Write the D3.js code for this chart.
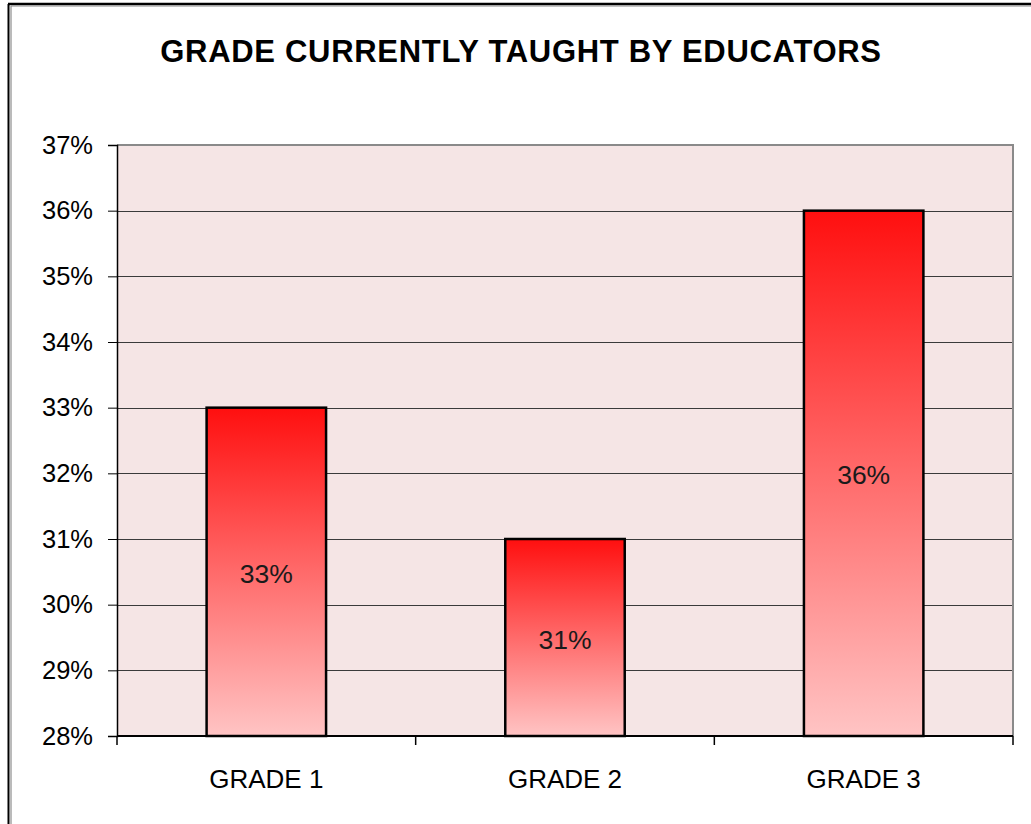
<!DOCTYPE html>
<html>
<head>
<meta charset="utf-8">
<script src="https://cdn.jsdelivr.net/npm/d3@7"></script>
<style>
  html, body { margin: 0; padding: 0; background: #ffffff; }
  svg { display: block; }
  text { font-family: "Liberation Sans", Arial, sans-serif; fill: #000; }
</style>
</head>
<body>
<svg id="chart" width="1031" height="824"></svg>
<script>
const title = "GRADE CURRENTLY TAUGHT BY EDUCATORS";
const categories = ["GRADE 1", "GRADE 2", "GRADE 3"];
const values = [0.33, 0.31, 0.36];
const yTicks = [0.28, 0.29, 0.30, 0.31, 0.32, 0.33, 0.34, 0.35, 0.36, 0.37];
const yDomain = [0.28, 0.37];

const svg = d3.select("#chart");
const W = 1031, H = 824;
const plot = { left: 117, top: 145, right: 1013, bottom: 736 };

// outer frame (left double line and top line)
svg.append("line").attr("x1", 8.5).attr("x2", 8.5).attr("y1", 4).attr("y2", H).attr("stroke", "#000").attr("stroke-width", 2);
svg.append("line").attr("x1", 11).attr("x2", 11).attr("y1", 6).attr("y2", H).attr("stroke", "#777").attr("stroke-width", 1);
svg.append("line").attr("x1", 8).attr("x2", W).attr("y1", 4).attr("y2", 4).attr("stroke", "#000").attr("stroke-width", 2.5);
svg.append("line").attr("x1", 11).attr("x2", W).attr("y1", 6).attr("y2", 6).attr("stroke", "#888").attr("stroke-width", 1);

const x = d3.scaleBand().domain(categories).range([plot.left, plot.right]).paddingInner(0.6).paddingOuter(0.3);
const xCat = d3.scaleBand().domain(categories).range([plot.left, plot.right]).padding(0);
const y = d3.scaleLinear().domain(yDomain).range([plot.bottom, plot.top]);

// gradient
const defs = svg.append("defs");
const grad = defs.append("linearGradient").attr("id", "barGrad").attr("x1", 0).attr("y1", 0).attr("x2", 0).attr("y2", 1);
grad.append("stop").attr("offset", "0%").attr("stop-color", "#ff0f0f");
grad.append("stop").attr("offset", "50%").attr("stop-color", "#ff6a6a");
grad.append("stop").attr("offset", "100%").attr("stop-color", "#ffc4c4");

// plot background
svg.append("rect").attr("x", plot.left).attr("y", plot.top)
  .attr("width", plot.right - plot.left).attr("height", plot.bottom - plot.top)
  .attr("fill", "#f5e5e5");

// gridlines
svg.append("g").selectAll("line").data(yTicks.filter(t => t > yDomain[0] && t < yDomain[1])).join("line")
  .attr("x1", plot.left).attr("x2", plot.right)
  .attr("y1", d => Math.round(y(d)) + 0.5).attr("y2", d => Math.round(y(d)) + 0.5)
  .attr("stroke", "#3a3a3a").attr("stroke-width", 1);

// plot border top/right
svg.append("path")
  .attr("d", `M${plot.left},${plot.top}H${plot.right}V${plot.bottom}`)
  .attr("fill", "none").attr("stroke", "#8a8a8a").attr("stroke-width", 2);

// bars
svg.append("g").selectAll("rect").data(values).join("rect")
  .attr("x", (d, i) => x(categories[i]))
  .attr("y", d => y(d))
  .attr("width", x.bandwidth())
  .attr("height", d => y(yDomain[0]) - y(d))
  .attr("fill", "url(#barGrad)")
  .attr("stroke", "#000").attr("stroke-width", 2.5);

// bar labels
svg.append("g").selectAll("text").data(values).join("text")
  .attr("x", (d, i) => x(categories[i]) + x.bandwidth() / 2)
  .attr("y", d => (y(d) + y(yDomain[0])) / 2 + 2)
  .attr("text-anchor", "middle").attr("dominant-baseline", "central")
  .style("font-size", "26.5px").style("fill", "#1a1a1a")
  .text(d => d3.format(".0%")(d));

// y axis
const yAxis = d3.axisLeft(y).tickValues(yTicks).tickFormat(d3.format(".0%")).tickSize(9).tickPadding(15);
const gy = svg.append("g").attr("transform", `translate(${plot.left},0)`).call(yAxis);
gy.select(".domain").attr("stroke", "#000").attr("stroke-width", 1.5);
gy.selectAll(".tick line").attr("stroke", "#000");
gy.selectAll(".tick text").style("font-size", "25.5px").style("font-family", "'Liberation Sans', Arial, sans-serif").attr("fill", "#000");

// x axis line
svg.append("line").attr("x1", plot.left).attr("x2", plot.right)
  .attr("y1", plot.bottom).attr("y2", plot.bottom)
  .attr("stroke", "#000").attr("stroke-width", 2);
// x ticks at category boundaries
const bounds = categories.map(c => xCat(c)).concat([xCat(categories[categories.length - 1]) + xCat.bandwidth()]);
svg.append("g").selectAll("line").data(bounds).join("line")
  .attr("x1", d => d).attr("x2", d => d)
  .attr("y1", plot.bottom).attr("y2", plot.bottom + 9)
  .attr("stroke", "#000").attr("stroke-width", 1.5);

// x labels
svg.append("g").selectAll("text").data(categories).join("text")
  .attr("x", d => xCat(d) + xCat.bandwidth() / 2)
  .attr("y", 779)
  .attr("text-anchor", "middle").attr("dominant-baseline", "central")
  .style("font-size", "26px")
  .text(d => d);

// title
svg.append("text").attr("x", 521).attr("y", 51)
  .attr("text-anchor", "middle").attr("dominant-baseline", "central")
  .style("font-size", "31px").style("font-weight", "bold").style("letter-spacing", "0.7px")
  .text(title);
</script>
</body>
</html>
